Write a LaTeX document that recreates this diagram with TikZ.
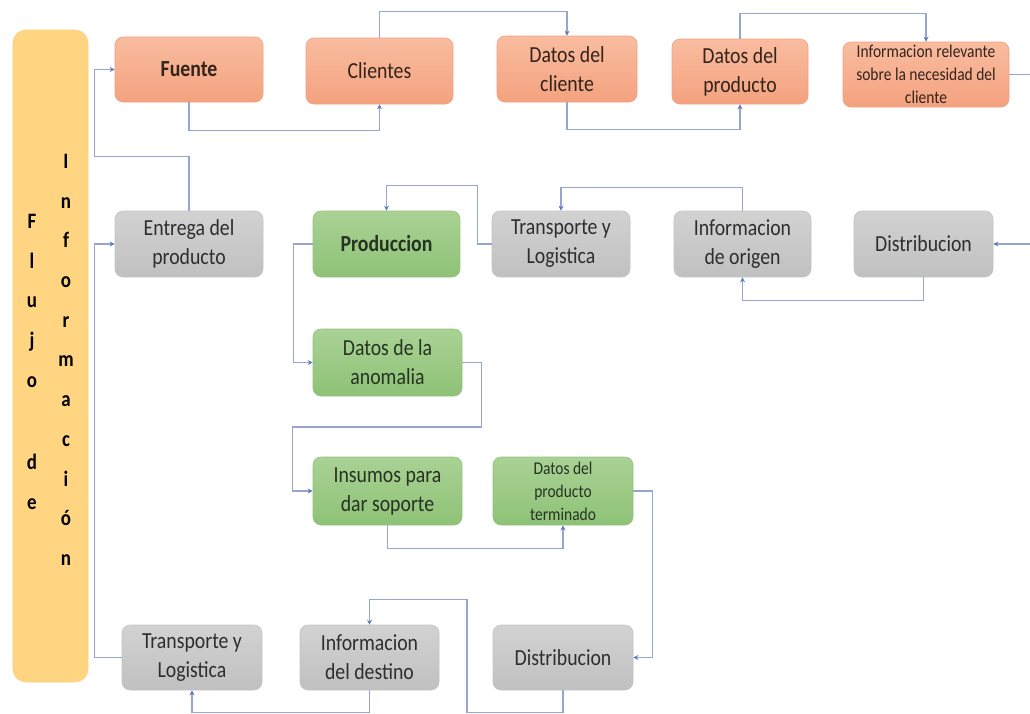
\documentclass[tikz,border=0pt]{standalone}
\usepackage{fontspec}
\setmainfont{Carlito}[FakeStretch=0.86]
\usetikzlibrary{arrows.meta,calc}
\definecolor{orT}{HTML}{F9BC9F}
\definecolor{orB}{HTML}{F4A27F}
\definecolor{orD}{HTML}{F2A080}
\definecolor{grT}{HTML}{A9D294}
\definecolor{grB}{HTML}{8EC277}
\definecolor{grD}{HTML}{92C47C}
\definecolor{gyT}{HTML}{D2D2D2}
\definecolor{gyB}{HTML}{C0C0C0}
\definecolor{gyD}{HTML}{C4C4C4}
\definecolor{sideC}{HTML}{FFD582}
\definecolor{sideD}{HTML}{FBCF78}
\definecolor{lineC}{HTML}{95A5CE}
\definecolor{tipC}{HTML}{5B79BC}
\definecolor{txtO}{HTML}{33241C}
\definecolor{txtG}{HTML}{263322}
\definecolor{txtY}{HTML}{2E2E2E}
\tikzset{
  wh/.style 2 args={minimum width=#1pt, minimum height=#2pt},
  basebox/.style={rounded corners=8pt, inner sep=0pt, align=center,
    font=\fontsize{23}{29}\selectfont},
  orbox/.style={basebox, top color=orT, bottom color=orB, draw=orD, line width=0.6pt, text=txtO},
  grbox/.style={basebox, top color=grT, bottom color=grB, draw=grD, line width=0.6pt, text=txtG},
  gybox/.style={basebox, top color=gyT, bottom color=gyB, draw=gyD, line width=0.6pt, text=txtY},
  smalltxt/.style={font=\fontsize{18}{23}\selectfont},
  sidebox/.style={rounded corners=13pt, fill=sideC, draw=sideD, line width=0.6pt},
  sidetxt/.style={inner sep=0pt, align=center, text=black,
    font=\fontsize{22}{39.7}\selectfont\bfseries},
  conn/.style={draw=lineC, line width=1.1pt,
    -{Stealth[length=5pt,width=5pt,color=tipC]}},
  plain/.style={draw=lineC, line width=1.1pt}
}
\begin{document}
\begin{tikzpicture}[x=1pt,y=-1pt]
\clip (0,0) rectangle (1030,713);
\fill[white] (0,0) rectangle (1030,713);

% side bar
\node[sidebox, wh={75}{652}] (side) at (50.5,356) {};
\node[sidetxt, anchor=north] (flujo) at (32,214) {F\\l\\u\\j\\o\\[43pt]d\\e};
\node[sidetxt, anchor=north] (info) at (66,154) {I\\n\\f\\o\\r\\m\\a\\c\\i\\ó\\n};

% top row
\node[orbox, wh={148}{65}] (fuente) at (189,69.5) {\bfseries Fuente};
\node[orbox, wh={147}{66}] (clientes) at (379.5,71) {Clientes};
\node[orbox, wh={140}{66}] (dcliente) at (567,69) {Datos del\\cliente};
\node[orbox, wh={136}{65}] (dproducto) at (740,71.5) {Datos del\\producto};
\node[orbox, smalltxt, wh={166}{65}] (inforel) at (926,74.5) {Informacion relevante\\sobre la necesidad del\\cliente};

% second row
\node[gybox, wh={148}{66}] (entrega) at (189,244) {Entrega del\\producto};
\node[grbox, wh={147}{66}] (produccion) at (386.5,244) {\bfseries Produccion};
\node[gybox, wh={138}{66}] (trans2) at (561,244) {Transporte y\\Logistica};
\node[gybox, wh={137}{66}] (origen) at (742.5,244) {Informacion\\de origen};
\node[gybox, wh={139}{66}] (distrib2) at (923.5,244) {Distribucion};

% green column
\node[grbox, wh={149}{67}] (anomalia) at (387.5,362.5) {Datos de la\\anomalia};
\node[grbox, wh={149}{68}] (insumos) at (387.5,491) {Insumos para\\dar soporte};
\node[grbox, smalltxt, wh={140}{68}] (terminado) at (563,491) {Datos del\\producto\\terminado};

% bottom row
\node[gybox, wh={140}{65}] (transB) at (192,657.5) {Transporte y\\Logistica};
\node[gybox, wh={139}{65}] (destino) at (369.5,657.5) {Informacion\\del destino};
\node[gybox, wh={140}{65}] (distribB) at (563,657.5) {Distribucion};

% connectors
\draw[conn] (entrega.north) -- ++(0,-54) -| ($(fuente.west)+(-20,0)$) -- (fuente.west);
\draw[conn] (transB.west) -| ($(entrega.west)+(-20,0)$) -- (entrega.west);
\draw[conn] (fuente.south) -- ++(0,28) -| (clientes.south);
\draw[conn] (clientes.north) -- ++(0,-26) -| (dcliente.north);
\draw[conn] (dcliente.south) -- ++(0,27) -| (dproducto.south);
\draw[conn] (dproducto.north) -- ++(0,-25) -| (inforel.north);
\draw[conn] (inforel.east) -- ++(40,0) |- (distrib2.east);
\draw[conn] (distrib2.south) -- ++(0,23) -| (origen.south);
\draw[conn] (origen.north) -- ++(0,-23) -| (trans2.north);
\draw[conn] (trans2.west) -- ++(-14,0) |- ($(produccion.north)+(0,-25)$) -- (produccion.north);
\draw[conn] (produccion.west) -- ++(-19,0) |- (anomalia.west);
\draw[conn] (anomalia.east) -- ++(19,0) -- ++(0,64.5) -| ($(insumos.west)+(-20,0)$) -- (insumos.west);
\draw[conn] (insumos.south) -- ++(0,23) -| (terminado.south);
\draw[conn] (terminado.east) -- ++(19,0) |- (distribB.east);
\draw[conn] (distribB.south) -- ++(0,22) -| ($(destino.north)+(97.5,-25)$) -| (destino.north);
\draw[conn] (destino.south) -- ++(0,22) -| (transB.south);
\end{tikzpicture}
\end{document}
